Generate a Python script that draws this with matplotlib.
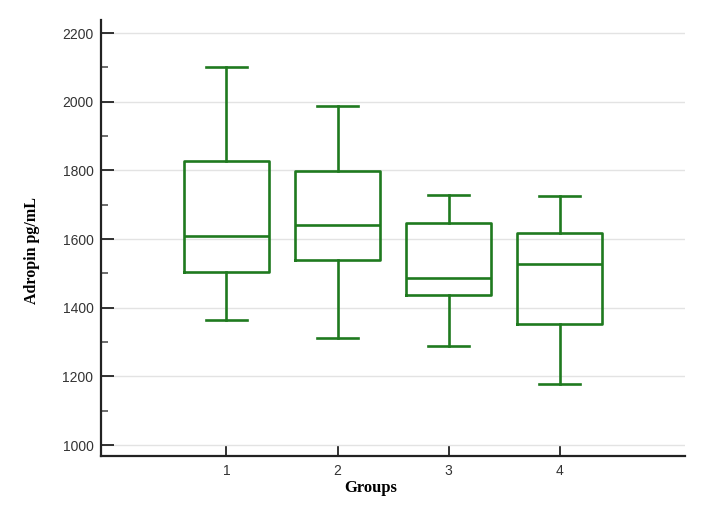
import matplotlib
matplotlib.use("Agg")
import matplotlib.pyplot as plt
from matplotlib.ticker import MultipleLocator

groups = ["1", "2", "3", "4"]
whisker_low = [1363, 1311, 1287, 1177]
q1 = [1505, 1539, 1437, 1351]
median = [1609, 1641, 1487, 1527]
q3 = [1827, 1798, 1648, 1618]
whisker_high = [2100, 1987, 1728, 1725]

green = "#1f7a1f"

stats = []
for i in range(len(groups)):
    stats.append({
        "label": groups[i],
        "whislo": whisker_low[i],
        "q1": q1[i],
        "med": median[i],
        "q3": q3[i],
        "whishi": whisker_high[i],
        "fliers": [],
    })

fig = plt.figure(figsize=(7.03, 5.16), dpi=100)
ax = fig.add_axes([0.1437, 0.1163, 0.8307, 0.845])

line = dict(color=green, linewidth=1.9)
ax.bxp(stats, positions=[1, 2, 3, 4], widths=0.76, showfliers=False,
       boxprops=line, whiskerprops=line, capprops=line, medianprops=line,
       capwidths=0.37)

ax.set_xlim(-0.13, 5.13)
ax.set_ylim(968, 2238)
ax.yaxis.set_major_locator(MultipleLocator(200))
ax.yaxis.set_minor_locator(MultipleLocator(100))
ax.grid(axis="y", which="major", color="#e3e3e3", linewidth=1)
ax.set_axisbelow(True)

for s in ["top", "right"]:
    ax.spines[s].set_visible(False)
for s in ["left", "bottom"]:
    ax.spines[s].set_color("#222222")
    ax.spines[s].set_linewidth(1.6)

ax.tick_params(axis="y", which="major", direction="in", length=9, width=1.3,
               color="#222222", pad=5.5)
ax.tick_params(axis="y", which="minor", direction="in", length=5, width=1.1,
               color="#444444")
ax.tick_params(axis="x", direction="in", length=8, width=1.3, color="#222222", pad=6)
for lab in ax.get_xticklabels() + ax.get_yticklabels():
    lab.set_fontfamily("Liberation Sans")
    lab.set_fontsize(10)
    lab.set_color("#333333")

ax.set_xlabel("Groups", fontfamily="Liberation Serif", fontweight="bold",
              fontsize=12)
ax.set_ylabel("Adropin pg/mL", fontfamily="Liberation Serif", fontweight="bold",
              fontsize=11.5)
ax.xaxis.set_label_coords(0.462, -0.055)
ax.yaxis.set_label_coords(-0.104, 0.472)

fig.savefig("out.png", dpi=100)
